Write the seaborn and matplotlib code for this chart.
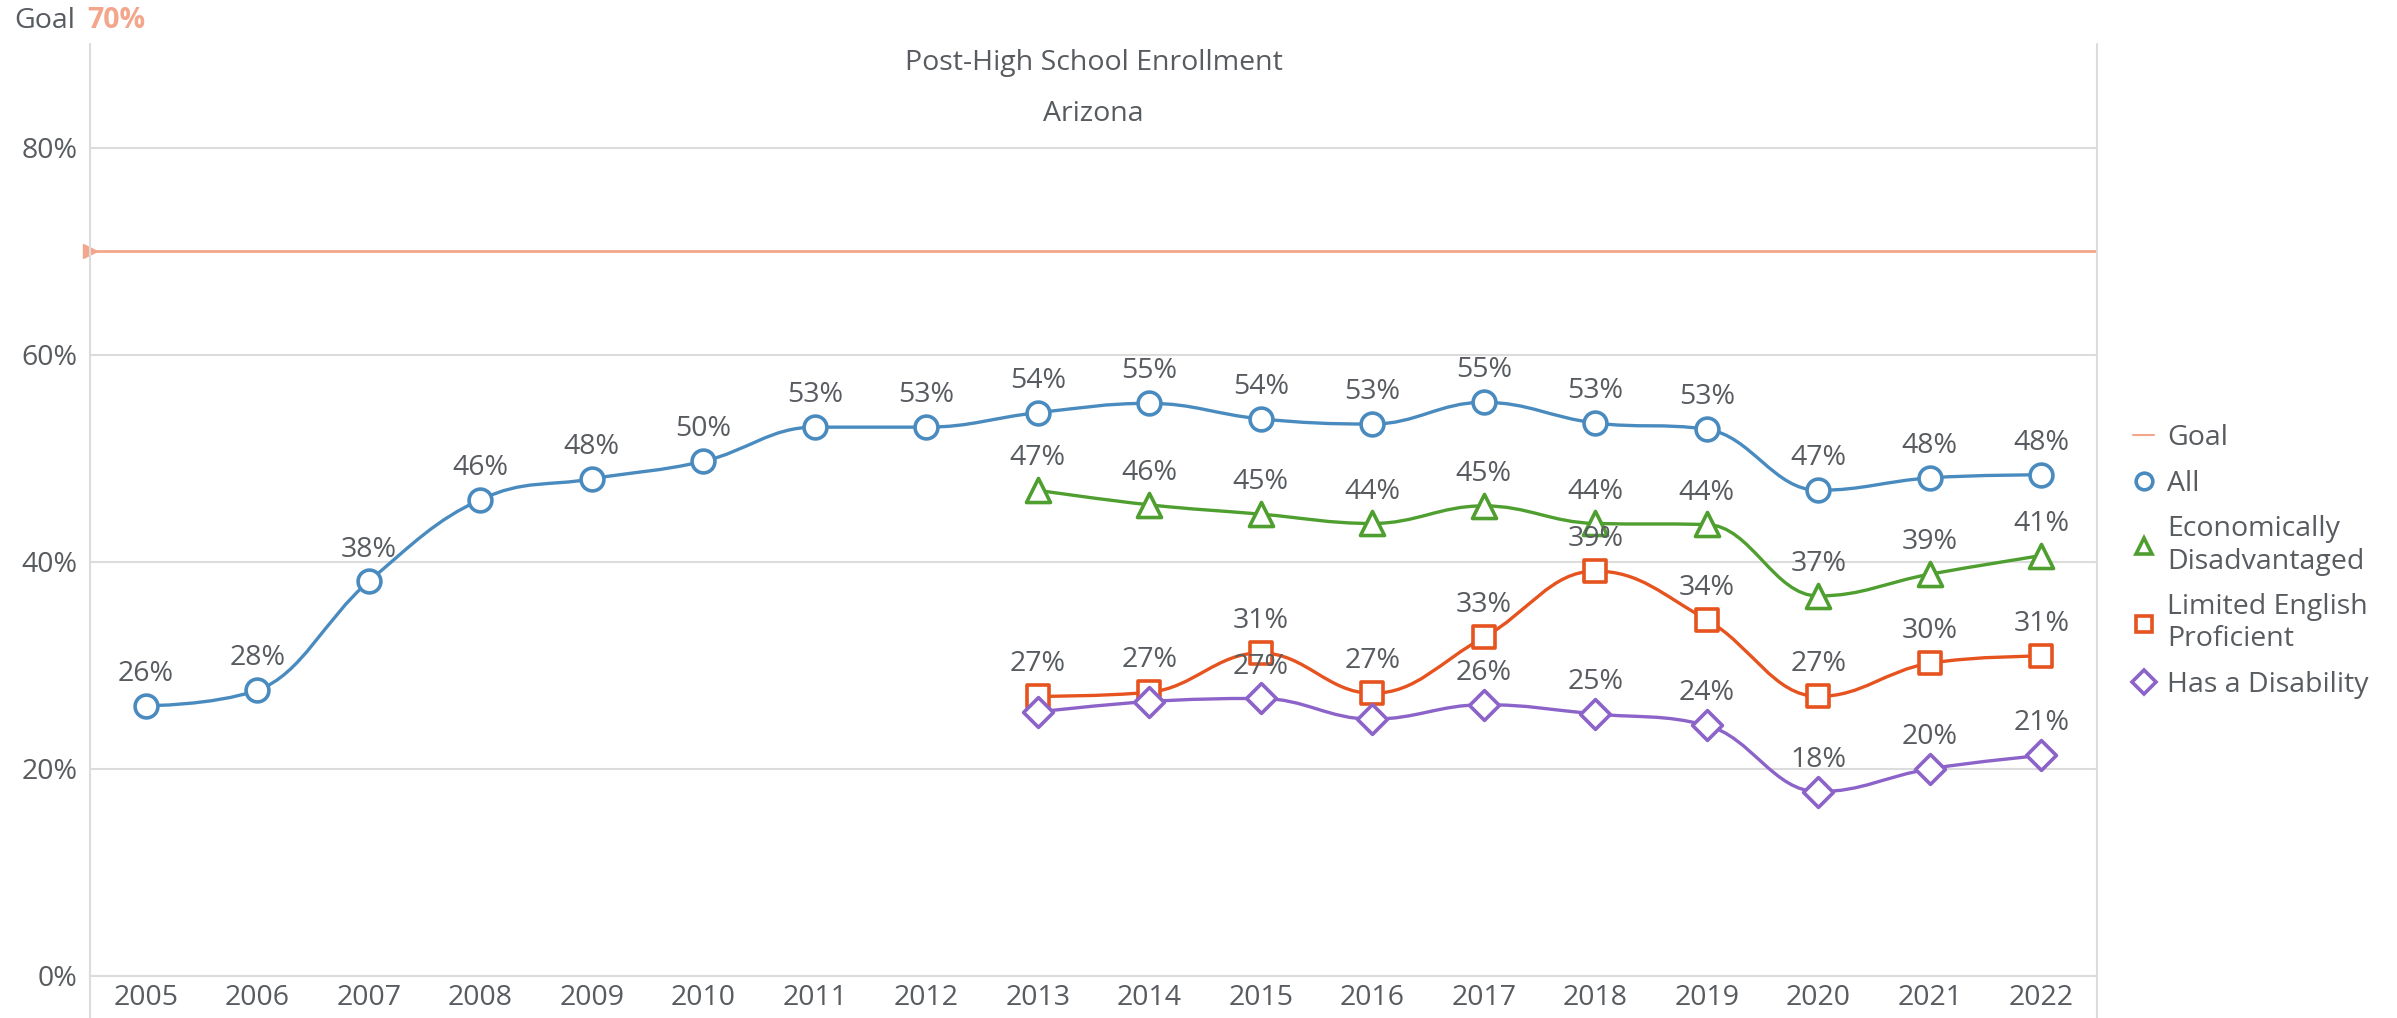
import numpy as np
import pandas as pd
import matplotlib
matplotlib.use("Agg")
import matplotlib.pyplot as plt
from matplotlib.path import Path
from matplotlib.patches import PathPatch
from matplotlib.lines import Line2D
import seaborn as sns

# chart data
years = list(range(2005, 2023))
years_sub = list(range(2013, 2023))
all_students = [26.1, 27.6, 38.1, 46.0, 48.0, 49.7, 53.0, 53.0, 54.4, 55.3,
                53.8, 53.3, 55.4, 53.4, 52.8, 46.9, 48.1, 48.4]
econ_disadv = [46.9, 45.5, 44.6, 43.7, 45.4, 43.7, 43.6, 36.7, 38.8, 40.6]
limited_english = [27.0, 27.4, 31.2, 27.3, 32.7, 39.1, 34.4, 27.0, 30.2, 30.9]
has_disability = [25.5, 26.5, 26.8, 24.8, 26.2, 25.3, 24.2, 17.8, 20.0, 21.3]
goal = 70

series_names = ["All", "Economically\nDisadvantaged", "Limited English\nProficient", "Has a Disability"]
# labels that the original chart hides because they overlap
hidden_labels = {"Has a Disability": [2013, 2014, 2016]}

df = pd.concat([
    pd.DataFrame({"year": years, "value": all_students, "group": series_names[0]}),
    pd.DataFrame({"year": years_sub, "value": econ_disadv, "group": series_names[1]}),
    pd.DataFrame({"year": years_sub, "value": limited_english, "group": series_names[2]}),
    pd.DataFrame({"year": years_sub, "value": has_disability, "group": series_names[3]}),
])

colors = {series_names[0]: "#4a8bbf", series_names[1]: "#4f9e30",
          series_names[2]: "#e6531f", series_names[3]: "#8c63c8"}
markers = {series_names[0]: "o", series_names[1]: "^",
           series_names[2]: "s", series_names[3]: "D"}
msizes = {series_names[0]: 270, series_names[1]: 300,
          series_names[2]: 250, series_names[3]: 230}
goal_color = "#f3a68b"
text_color = "#585c60"
grid_color = "#dcdcdc"
FS = 20.5


def spline_path(xs, ys, smoothing=1.5):
    # bezier spline like the one the original charting tool draws
    n = len(xs)
    denom = smoothing + 1
    lc = [(x, y) for x, y in zip(xs, ys)]
    rc = [(x, y) for x, y in zip(xs, ys)]
    for i in range(1, n - 1):
        x, y = xs[i], ys[i]
        lx, ly = xs[i - 1], ys[i - 1]
        nx, ny = xs[i + 1], ys[i + 1]
        lcx = (smoothing * x + lx) / denom
        lcy = (smoothing * y + ly) / denom
        rcx = (smoothing * x + nx) / denom
        rcy = (smoothing * y + ny) / denom
        corr = ((rcy - lcy) * (rcx - x)) / (rcx - lcx) + y - rcy
        lcy += corr
        rcy += corr
        if lcy > ly and lcy > y:
            lcy = max(ly, y)
            rcy = 2 * y - lcy
        elif lcy < ly and lcy < y:
            lcy = min(ly, y)
            rcy = 2 * y - lcy
        if rcy > ny and rcy > y:
            rcy = max(ny, y)
            lcy = 2 * y - rcy
        elif rcy < ny and rcy < y:
            rcy = min(ny, y)
            lcy = 2 * y - rcy
        lc[i] = (lcx, lcy)
        rc[i] = (rcx, rcy)
    verts = [(xs[0], ys[0])]
    codes = [Path.MOVETO]
    for i in range(1, n):
        verts += [rc[i - 1], lc[i], (xs[i], ys[i])]
        codes += [Path.CURVE4] * 3
    return Path(verts, codes)


sns.set_theme(style="white")
plt.rcParams["font.family"] = ["Open Sans", "DejaVu Sans"]
plt.rcParams["font.size"] = FS

W, H = 2397, 1018
fig = plt.figure(figsize=(W / 100, H / 100), dpi=100)
left, right, bottom, top = 90, 2097, 976, 44
ax = fig.add_axes([left / W, 1 - bottom / H, (right - left) / W, (bottom - top) / H])

ax.set_xlim(2004.5, 2022.5)
ax.set_ylim(0, 90)

# goal line
ax.axhline(goal, color=goal_color, lw=2, zorder=2)
ax.plot([2004.5], [goal], marker=">", color=goal_color, ms=10, clip_on=False, zorder=3)

for i, name in enumerate(series_names):
    sub = df[df["group"] == name]
    xs = sub["year"].to_numpy(dtype=float)
    ys = sub["value"].to_numpy(dtype=float)
    patch = PathPatch(spline_path(xs, ys), facecolor="none", edgecolor=colors[name],
                      lw=2.4, zorder=4 + i * 2, capstyle="round", joinstyle="round")
    ax.add_patch(patch)
    sns.scatterplot(data=sub, x="year", y="value", ax=ax, marker=markers[name],
                    s=msizes[name], color=colors[name], facecolor="white",
                    edgecolor=colors[name], linewidth=2.6, zorder=5 + i * 2,
                    legend=False, clip_on=False)
    skip = hidden_labels.get(name, [])
    for x, y in zip(xs, ys):
        if int(x) in skip:
            continue
        ax.annotate(f"{int(np.floor(y + 0.5))}%", (x, y), xytext=(0, 23),
                    textcoords="offset points", ha="center", va="center",
                    color=text_color, fontsize=FS, zorder=20)

# axes styling
ax.set_yticks([0, 20, 40, 60, 80])
ax.set_yticklabels(["0%", "20%", "40%", "60%", "80%"])
ax.set_xticks(years)
ax.set_xticklabels([str(y) for y in years])
ax.tick_params(axis="both", length=0, colors=text_color, labelsize=FS)
ax.tick_params(axis="x", pad=6)
ax.tick_params(axis="y", pad=9)
ax.grid(axis="y", color=grid_color, lw=1.5)
ax.grid(axis="x", visible=False)
for side in ["top", "left", "right"]:
    ax.spines[side].set_visible(False)
ax.spines["bottom"].set_color(grid_color)
ax.spines["bottom"].set_linewidth(1.5)
ax.set_xlabel("")
ax.set_ylabel("")

# vertical frame lines running down to the bottom edge
for xp in (left, right):
    fig.add_artist(Line2D([xp / W, xp / W], [0, 1 - top / H], color=grid_color, lw=1.5))

# titles
cx = (left + right) / 2 / W
fig.text(cx, 1 - 63 / H, "Post-High School Enrollment", ha="center", va="center",
         color=text_color, fontsize=FS)
fig.text(cx, 1 - 114 / H, "Arizona", ha="center", va="center", color=text_color, fontsize=FS)
fig.text(14 / W, 1 - 21 / H, "Goal", ha="left", va="center", color=text_color, fontsize=FS)
fig.text(87 / W, 1 - 21 / H, "70%", ha="left", va="center", color=goal_color,
         fontsize=FS, fontweight="bold")

# legend
handles = [Line2D([], [], color=goal_color, lw=1.5)]
for name in series_names:
    handles.append(Line2D([], [], ls="", marker=markers[name], ms=12,
                          markerfacecolor="white", markeredgecolor=colors[name],
                          markeredgewidth=2.6))
fig.legend(handles, ["Goal"] + series_names, loc="upper left",
           bbox_to_anchor=(2133 / W, 1 - 424 / H), frameon=False, fontsize=FS,
           labelcolor=text_color, handlelength=0.75, handletextpad=0.45,
           labelspacing=0.62, borderpad=0, borderaxespad=0)

fig.savefig("out.png", dpi=100)
